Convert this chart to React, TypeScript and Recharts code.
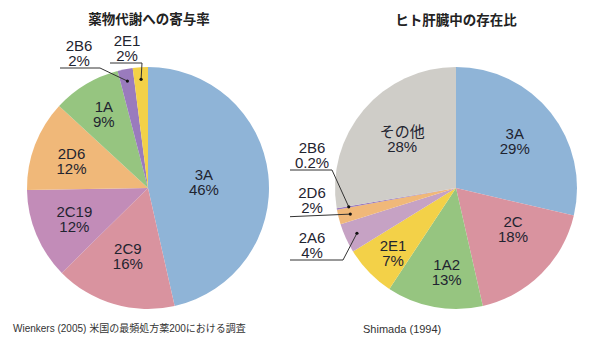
import { PieChart, Pie, Cell } from 'recharts';

// 薬物代謝への寄与率 (Wienkers 2005)
const leftNames = ['3A', '2C9', '2C19', '2D6', '1A', '2B6', '2E1'];
const leftValues = [46, 16, 12, 12, 9, 2, 2];

// ヒト肝臓中の存在比 (Shimada 1994)
const rightNames = ['3A', '2C', '1A2', '2E1', '2A6', '2D6', '2B6', 'その他'];
const rightValues = [29, 18, 13, 7, 4, 2, 0.2, 28];

const leftTitle = '薬物代謝への寄与率';
const rightTitle = 'ヒト肝臓中の存在比';
const leftSource = 'Wienkers (2005) 米国の最頻処方薬200における調査';
const rightSource = 'Shimada (1994)';

const COLORS: Record<string, string> = {
  '3A': '#8fb4d7',
  '2C9': '#d9939f',
  '2C': '#d9939f',
  '2C19': '#c28cb8',
  '2A6': '#c6a2c4',
  '2D6': '#f0b879',
  '1A': '#96c580',
  '1A2': '#96c580',
  '2B6': '#9a7bbd',
  '2E1': '#f3d148',
  'その他': '#cfcdc8',
};

const leftData = leftNames.map((name, i) => ({ name, value: leftValues[i] }));
const rightData = rightNames.map((name, i) => ({ name, value: rightValues[i] }));

const FONT = "'Liberation Sans', 'Noto Sans CJK JP', sans-serif";
const RAD = Math.PI / 180;

// inside labels: [radius fraction, clockwise angle offset from the slice middle]
const leftInside: Record<string, [number, number]> = {
  '3A': [0.465, 0],
  '2C9': [0.59, 0],
  '2C19': [0.66, 0],
  '2D6': [0.67, -1.5],
  '1A': [0.71, 0],
};
const rightInside: Record<string, [number, number]> = {
  '3A': [0.62, 0],
  '2C': [0.58, -9.5],
  '1A2': [0.7, -4],
  '2E1': [0.75, -2],
  'その他': [0.6, 2],
};

// callouts for thin slices, relative to the pie centre
type Callout = { tx: number; ty: [number, number]; line: [number, number][] };
const leftCallouts: Record<string, Callout> = {
  '2B6': { tx: -69, ty: [-137, -122], line: [[-88, -120], [-48, -120]] },
  '2E1': { tx: -21, ty: [-142, -127], line: [[-38, -125], [-6, -125]] },
};
const rightCallouts: Record<string, Callout> = {
  '2B6': { tx: -144, ty: [-35, -20], line: [[-166, -18], [-124, -18]] },
  '2D6': { tx: -144, ty: [10, 25], line: [[-166, 28.7]] },
  '2A6': { tx: -144, ty: [55, 70], line: [[-166, 72], [-113, 72]] },
};

function polar(cx: number, cy: number, r: number, angle: number) {
  return [cx + r * Math.cos(-angle * RAD), cy + r * Math.sin(-angle * RAD)];
}

function makeLabel(inside: Record<string, [number, number]>, callouts: Record<string, Callout>) {
  return (props: any) => {
    const { cx, cy, midAngle, outerRadius, name, value } = props;
    const pct = `${value}%`;
    if (inside[name]) {
      const [frac, dCw] = inside[name];
      const [x, y] = polar(cx, cy, outerRadius * frac, midAngle - dCw);
      return (
        <text textAnchor="middle" fill="#1f2430" fontSize={15} fontFamily={FONT}>
          <tspan x={x} y={y - 2}>{name}</tspan>
          <tspan x={x} y={y + 13}>{pct}</tspan>
        </text>
      );
    }
    const c = callouts[name];
    if (!c) return null;
    const [dx, dy] = polar(cx, cy, outerRadius * 0.9, midAngle);
    const pts = [...c.line.map(([px, py]) => [cx + px, cy + py]), [dx, dy]];
    return (
      <g>
        <polyline
          points={pts.map((p) => p.join(',')).join(' ')}
          fill="none"
          stroke="#333"
          strokeWidth={1}
        />
        <circle cx={dx} cy={dy} r={1.6} fill="#111" />
        <text textAnchor="middle" fill="#1f2430" fontSize={15} fontFamily={FONT}>
          <tspan x={cx + c.tx} y={cy + c.ty[0]}>{name}</tspan>
          <tspan x={cx + c.tx} y={cy + c.ty[1]}>{pct}</tspan>
        </text>
      </g>
    );
  };
}

const titleStyle: React.CSSProperties = {
  position: 'absolute',
  top: 11,
  width: 220,
  textAlign: 'center',
  fontFamily: FONT,
  fontWeight: 'bold',
  fontSize: 13.5,
  lineHeight: '17px',
  color: '#222',
};

const sourceStyle: React.CSSProperties = {
  position: 'absolute',
  top: 322,
  fontFamily: FONT,
  lineHeight: '14px',
  color: '#333',
  whiteSpace: 'nowrap',
};

export default function App() {
  return (
    <div style={{ position: 'relative', width: 600, height: 353, background: '#fff' }}>
      <style>{'body{margin:0}'}</style>
      <div style={{ ...titleStyle, left: 149 - 110 }}>{leftTitle}</div>
      <div style={{ ...titleStyle, left: 456 - 110, top: 12 }}>{rightTitle}</div>
      <PieChart width={600} height={353} margin={{ top: 0, right: 0, bottom: 0, left: 0 }}>
        <Pie
          data={leftData}
          dataKey="value"
          nameKey="name"
          cx={148}
          cy={188}
          outerRadius={121}
          startAngle={90}
          endAngle={-270}
          stroke="none"
          label={makeLabel(leftInside, leftCallouts)}
          labelLine={false}
          isAnimationActive={false}
        >
          {leftData.map((d) => (
            <Cell key={d.name} fill={COLORS[d.name]} />
          ))}
        </Pie>
        <Pie
          data={rightData}
          dataKey="value"
          nameKey="name"
          cx={456}
          cy={188}
          outerRadius={121}
          startAngle={90}
          endAngle={-270}
          stroke="none"
          label={makeLabel(rightInside, rightCallouts)}
          labelLine={false}
          isAnimationActive={false}
        >
          {rightData.map((d) => (
            <Cell key={d.name} fill={COLORS[d.name]} />
          ))}
        </Pie>
      </PieChart>
      <div style={{ ...sourceStyle, left: 13, fontSize: 10 }}>{leftSource}</div>
      <div style={{ ...sourceStyle, left: 363, fontSize: 11 }}>{rightSource}</div>
    </div>
  );
}
